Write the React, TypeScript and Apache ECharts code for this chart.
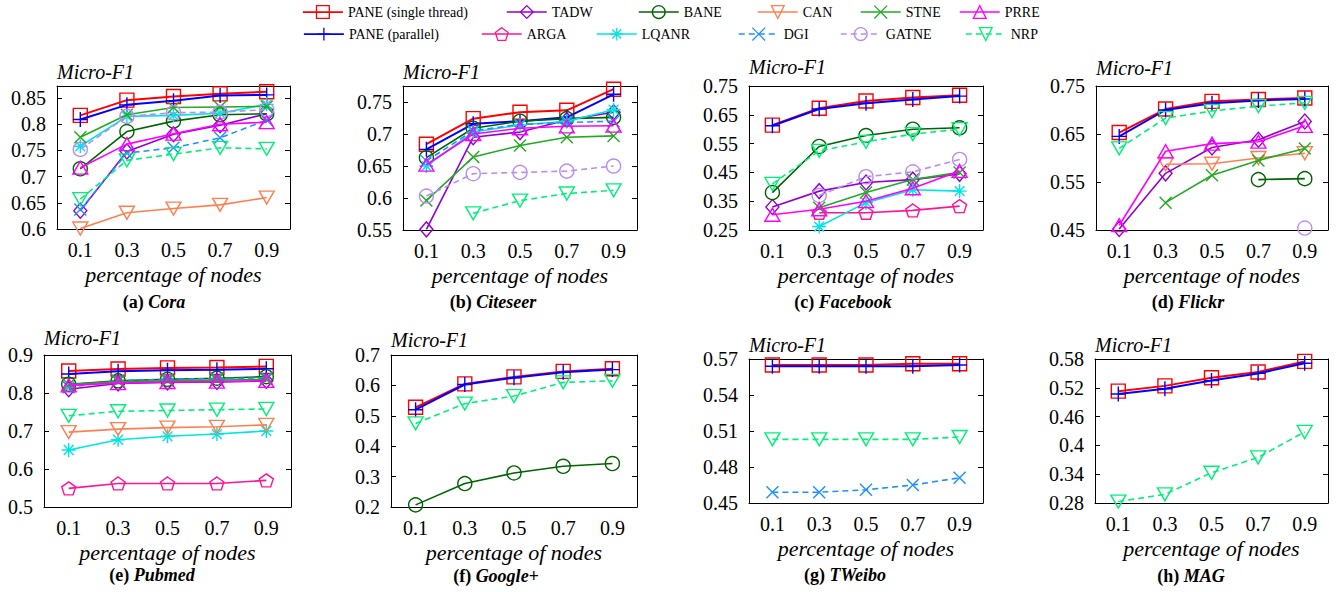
import React, { useEffect, useRef } from 'react';
import * as echarts from 'echarts';

const FONT = 'Liberation Serif';

// x categories (percentage of nodes)
const xCats = ['0.1', '0.3', '0.5', '0.7', '0.9'];

type Row = [string, (number | null)[]];

const cora: Row[] = [
  ['PANE (single thread)', [0.817, 0.846, 0.853, 0.858, 0.862]],
  ['PANE (parallel)', [0.809, 0.837, 0.845, 0.855, 0.856]],
  ['TADW', [0.635, 0.748, 0.781, 0.798, 0.82]],
  ['BANE', [0.715, 0.786, 0.806, 0.818, 0.82]],
  ['LQANR', [0.758, 0.815, 0.817, 0.821, 0.838]],
  ['CAN', [0.601, 0.631, 0.639, 0.646, 0.66]],
  ['DGI', [0.637, 0.745, 0.755, 0.774, 0.808]],
  ['STNE', [0.775, 0.818, 0.832, 0.833, 0.834]],
  ['GATNE', [0.752, 0.815, 0.822, 0.823, 0.828]],
  ['PRRE', [0.717, 0.762, 0.782, 0.8, 0.804]],
  ['NRP', [0.657, 0.731, 0.743, 0.755, 0.753]],
];

const citeseer: Row[] = [
  ['PANE (single thread)', [0.684, 0.724, 0.734, 0.737, 0.77]],
  ['PANE (parallel)', [0.676, 0.716, 0.72, 0.726, 0.762]],
  ['TADW', [0.551, 0.695, 0.703, 0.722, 0.734]],
  ['BANE', [0.663, 0.709, 0.72, 0.724, 0.726]],
  ['LQANR', [0.65, 0.703, 0.714, 0.72, 0.738]],
  ['DGI', [0.658, 0.705, 0.715, 0.718, 0.72]],
  ['STNE', [0.596, 0.664, 0.682, 0.695, 0.697]],
  ['GATNE', [0.603, 0.638, 0.64, 0.642, 0.65]],
  ['PRRE', [0.652, 0.7, 0.709, 0.712, 0.713]],
  ['NRP', [null, 0.576, 0.596, 0.607, 0.612]],
];

const facebook: Row[] = [
  ['PANE (single thread)', [0.614, 0.673, 0.698, 0.71, 0.718]],
  ['PANE (parallel)', [0.612, 0.67, 0.69, 0.703, 0.715]],
  ['TADW', [0.33, 0.385, 0.415, 0.425, 0.445]],
  ['ARGA', [null, 0.31, 0.31, 0.318, 0.333]],
  ['BANE', [0.38, 0.54, 0.578, 0.6, 0.605]],
  ['LQANR', [null, 0.262, 0.345, 0.39, 0.385]],
  ['STNE', [null, 0.327, 0.38, 0.425, 0.45]],
  ['GATNE', [null, 0.37, 0.435, 0.452, 0.495]],
  ['PRRE', [0.303, 0.322, 0.35, 0.395, 0.455]],
  ['NRP', [0.41, 0.525, 0.556, 0.583, 0.6]],
];

const flickr: Row[] = [
  ['PANE (single thread)', [0.653, 0.702, 0.718, 0.722, 0.725]],
  ['PANE (parallel)', [0.645, 0.7, 0.714, 0.72, 0.723]],
  ['TADW', [0.452, 0.568, 0.622, 0.638, 0.676]],
  ['BANE', [null, null, null, 0.555, 0.557]],
  ['CAN', [null, 0.587, 0.588, 0.6, 0.61]],
  ['STNE', [null, 0.507, 0.564, 0.595, 0.62]],
  ['GATNE', [null, null, null, null, 0.454]],
  ['PRRE', [0.46, 0.614, 0.63, 0.634, 0.667]],
  ['NRP', [0.62, 0.683, 0.698, 0.708, 0.715]],
];

const pubmed: Row[] = [
  ['PANE (single thread)', [0.858, 0.863, 0.866, 0.867, 0.87]],
  ['PANE (parallel)', [0.85, 0.857, 0.86, 0.861, 0.864]],
  ['TADW', [0.81, 0.825, 0.828, 0.829, 0.832]],
  ['ARGA', [0.549, 0.562, 0.562, 0.562, 0.57]],
  ['BANE', [0.823, 0.832, 0.836, 0.839, 0.843]],
  ['LQANR', [0.65, 0.677, 0.686, 0.692, 0.7]],
  ['CAN', [0.697, 0.705, 0.709, 0.711, 0.716]],
  ['DGI', [0.815, 0.833, 0.836, 0.838, 0.84]],
  ['STNE', [0.822, 0.83, 0.832, 0.834, 0.836]],
  ['PRRE', [0.82, 0.826, 0.829, 0.83, 0.832]],
  ['NRP', [0.74, 0.752, 0.754, 0.756, 0.758]],
];

const googlePlus: Row[] = [
  ['PANE (single thread)', [0.528, 0.605, 0.628, 0.646, 0.655]],
  ['PANE (parallel)', [0.52, 0.603, 0.625, 0.643, 0.652]],
  ['BANE', [0.207, 0.277, 0.312, 0.334, 0.343]],
  ['NRP', [0.475, 0.54, 0.565, 0.61, 0.615]],
];

const tweibo: Row[] = [
  ['PANE (single thread)', [0.565, 0.565, 0.565, 0.566, 0.566]],
  ['PANE (parallel)', [0.564, 0.564, 0.564, 0.564, 0.565]],
  ['DGI', [0.459, 0.459, 0.461, 0.465, 0.471]],
  ['NRP', [0.503, 0.503, 0.503, 0.503, 0.505]],
];

const mag: Row[] = [
  ['PANE (single thread)', [0.513, 0.524, 0.541, 0.553, 0.575]],
  ['PANE (parallel)', [0.507, 0.518, 0.535, 0.55, 0.571]],
  ['NRP', [0.283, 0.298, 0.343, 0.375, 0.428]],
];

// y axis ranges per panel: [min, max, interval]
const yRanges: [number, number, number][] = [
  [0.6, 0.873, 0.05],
  [0.55, 0.775, 0.05],
  [0.25, 0.75, 0.1],
  [0.45, 0.75, 0.1],
  [0.5, 0.9, 0.1],
  [0.2, 0.7, 0.1],
  [0.45, 0.57, 0.03],
  [0.28, 0.58, 0.06],
];

const panelData: Row[][] = [cora, citeseer, facebook, flickr, pubmed, googlePlus, tweibo, mag];
const panelLetters = ['a', 'b', 'c', 'd', 'e', 'f', 'g', 'h'];
const panelNames = ['Cora', 'Citeseer', 'Facebook', 'Flickr', 'Pubmed', 'Google+', 'TWeibo', 'MAG'];

// layout (pixels): grid [left, top, width, height], y-name gap, caption center
const gridBoxes: [number, number, number, number][] = [
  [57, 86, 233, 143],
  [403, 86, 234, 144],
  [749, 86, 234, 144],
  [1096, 86, 232, 144],
  [44, 355, 247, 152],
  [391, 355, 246, 152],
  [749, 359, 234, 144],
  [1095, 359, 233, 144],
];
const yNameGaps = [4, 4, 9, 8, 7, 5, 4, 4];
const captionPos: [number, number][] = [
  [154, 302],
  [493, 302],
  [843, 302],
  [1188, 302],
  [152, 575],
  [496, 576],
  [845, 575],
  [1191, 576],
];

const PLUS = 'path://M5,0L5,10M0,5L10,5';
const CROSS = 'path://M0,0L10,10M0,10L10,0';
const STAR = 'path://M5,0L5,10M0,5L10,5M1.5,1.5L8.5,8.5M1.5,8.5L8.5,1.5';
const PENTAGON = 'path://M5,0L9.755,3.455L7.939,9.045L2.061,9.045L0.245,3.455Z';
const TRI_DOWN = 'path://M0,0L10,0L5,8.66Z';

interface MStyle {
  color: string;
  symbol: string;
  size: number | number[];
  dashed?: boolean;
  width?: number;
}

const METHOD_STYLE: Record<string, MStyle> = {
  'PANE (single thread)': { color: '#ff0000', symbol: 'rect', size: 14, width: 2 },
  'PANE (parallel)': { color: '#0000ff', symbol: PLUS, size: 15, width: 2 },
  TADW: { color: '#9400d3', symbol: 'diamond', size: [13, 15] },
  ARGA: { color: '#ff1493', symbol: PENTAGON, size: [14, 13] },
  BANE: { color: '#006400', symbol: 'circle', size: 14 },
  LQANR: { color: '#00e5e5', symbol: STAR, size: 14 },
  CAN: { color: '#ff7f50', symbol: TRI_DOWN, size: [15, 13] },
  DGI: { color: '#1e90ff', symbol: CROSS, size: 12, dashed: true },
  STNE: { color: '#22aa22', symbol: CROSS, size: 12 },
  GATNE: { color: '#b98cf2', symbol: 'circle', size: 14, dashed: true },
  PRRE: { color: '#ff00ff', symbol: 'triangle', size: [15, 13] },
  NRP: { color: '#00f07a', symbol: TRI_DOWN, size: [15, 13], dashed: true },
};

// legend placement: [name, left, top]
const legendItems: [string, number, number][] = [
  ['PANE (single thread)', 302, 5],
  ['TADW', 506, 5],
  ['BANE', 638, 5],
  ['CAN', 757, 5],
  ['STNE', 860, 5],
  ['PRRE', 959, 5],
  ['PANE (parallel)', 303, 27],
  ['ARGA', 481, 27],
  ['LQANR', 596, 27],
  ['DGI', 738, 27],
  ['GATNE', 840, 27],
  ['NRP', 965, 27],
];

const DASH = [6, 4];

function fmtTick(min: number, step: number) {
  return (v: number) => {
    const k = (v - min) / step;
    if (Math.abs(k - Math.round(k)) > 1e-6) return '';
    return String(parseFloat(v.toFixed(3)));
  };
}

function buildOption() {
  const grid: any[] = [];
  const xAxis: any[] = [];
  const yAxis: any[] = [];
  const series: any[] = [];
  const tickStyle = { lineStyle: { color: '#000', width: 1 } };
  const axisLine = { show: true, onZero: false, lineStyle: { color: '#000', width: 1 } };

  panelData.forEach((rows, i) => {
    const [l, t, w, h] = gridBoxes[i];
    const [ymin, ymax, step] = yRanges[i];
    grid.push({ left: l, top: t, width: w, height: h, containLabel: false });
    xAxis.push({
      type: 'category',
      gridIndex: i,
      data: xCats,
      boundaryGap: true,
      axisLine,
      axisTick: { inside: true, alignWithLabel: true, length: 5, ...tickStyle },
      axisLabel: { fontFamily: FONT, fontSize: 20, color: '#000', margin: 11 },
      splitLine: { show: false },
      name: 'percentage of nodes',
      nameLocation: 'middle',
      nameGap: 34,
      nameTextStyle: { fontFamily: FONT, fontStyle: 'italic', fontSize: 22, color: '#000' },
    });
    xAxis.push({
      type: 'category',
      gridIndex: i,
      position: 'top',
      data: xCats,
      boundaryGap: true,
      axisLine,
      axisTick: { inside: true, alignWithLabel: true, length: 5, ...tickStyle },
      axisLabel: { show: false },
      splitLine: { show: false },
    });
    yAxis.push({
      type: 'value',
      gridIndex: i,
      min: ymin,
      max: ymax,
      interval: step,
      axisLine,
      axisTick: { show: true, inside: true, length: 5, ...tickStyle },
      axisLabel: { fontFamily: FONT, fontSize: 20, color: '#000', margin: 11, formatter: fmtTick(ymin, step) },
      splitLine: { show: false },
      name: 'Micro-F1',
      nameLocation: 'end',
      nameGap: yNameGaps[i],
      nameTextStyle: {
        fontFamily: FONT,
        fontStyle: 'italic',
        fontSize: 20,
        color: '#000',
        align: 'left',
        verticalAlign: 'bottom',
      },
    });
    yAxis.push({
      type: 'value',
      gridIndex: i,
      position: 'right',
      min: ymin,
      max: ymax,
      interval: step,
      axisLine,
      axisTick: { show: true, inside: true, length: 5, ...tickStyle },
      axisLabel: { show: false },
      splitLine: { show: false },
    });
    rows.forEach(([name, values], j) => {
      const st = METHOD_STYLE[name];
      series.push({
        type: 'line',
        name,
        xAxisIndex: 2 * i,
        yAxisIndex: 2 * i,
        data: values,
        symbol: st.symbol,
        symbolSize: st.size,
        showAllSymbol: true,
        connectNulls: false,
        z: 2 + j,
        itemStyle: { color: 'transparent', borderColor: st.color, borderWidth: 1.4 },
        lineStyle: { color: st.color, width: st.width || 1.6, type: st.dashed ? DASH : 'solid' },
        emphasis: { disabled: true },
      });
    });
  });

  const legend = legendItems.map(([name, left, top]) => {
    const st = METHOD_STYLE[name];
    return {
      data: [name],
      left,
      top,
      padding: 0,
      itemWidth: 40,
      itemHeight: 16,
      selectedMode: false,
      textStyle: { fontFamily: FONT, fontSize: 14, color: '#000' },
      itemStyle: { color: 'transparent', borderColor: st.color, borderWidth: 1.3 },
      lineStyle: { color: st.color, width: st.width ? 1.8 : 1.5, type: st.dashed ? DASH : 'solid' },
    };
  });

  const graphic = panelLetters.map((letter, i) => ({
    type: 'text',
    x: captionPos[i][0],
    y: captionPos[i][1],
    style: {
      text: `{a|(${letter}) }{b|${panelNames[i]}}`,
      align: 'center',
      verticalAlign: 'middle',
      rich: {
        a: { fontFamily: FONT, fontWeight: 'bold', fontSize: 18, fill: '#000' },
        b: { fontFamily: FONT, fontWeight: 'bold', fontStyle: 'italic', fontSize: 18, fill: '#000' },
      },
    },
  }));

  return {
    animation: false,
    backgroundColor: '#ffffff',
    textStyle: { fontFamily: FONT },
    grid,
    xAxis,
    yAxis,
    legend,
    series,
    graphic,
  };
}

export default function App() {
  const ref = useRef<HTMLDivElement>(null);
  useEffect(() => {
    if (!ref.current) return;
    const chart = echarts.init(ref.current, undefined, { renderer: 'svg' });
    chart.setOption(buildOption() as any);
    return () => chart.dispose();
  }, []);
  return (
    <div
      ref={ref}
      style={{ position: 'absolute', left: 0, top: 0, width: 1340, height: 592, background: '#fff' }}
    />
  );
}
